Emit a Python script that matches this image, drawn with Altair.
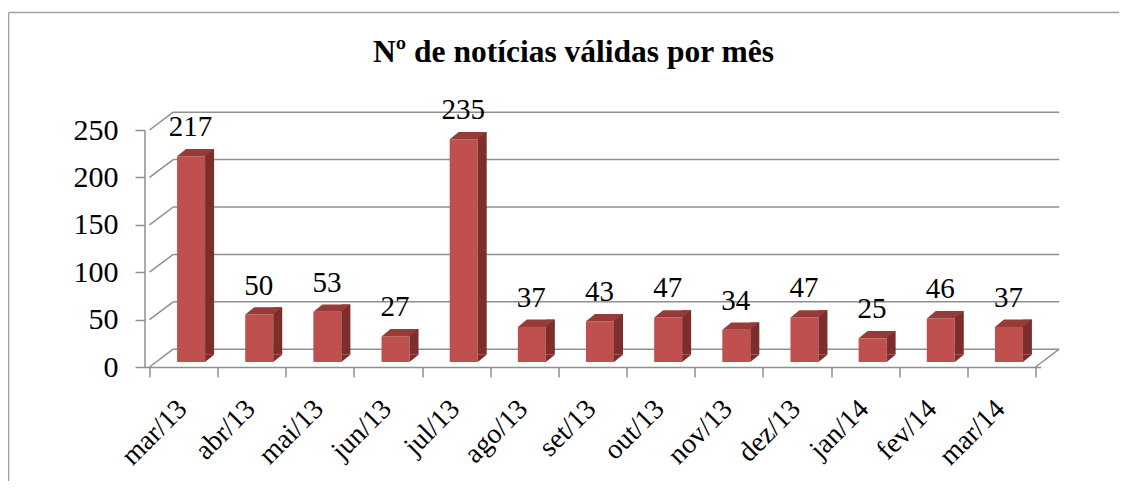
import altair as alt
import pandas as pd

months = ["mar/13", "abr/13", "mai/13", "jun/13", "jul/13", "ago/13", "set/13",
          "out/13", "nov/13", "dez/13", "jan/14", "fev/14", "mar/14"]
values = [217, 50, 53, 27, 235, 37, 43, 47, 34, 47, 25, 46, 37]
y_ticks = [0, 50, 100, 150, 200, 250]
title_text = "Nº de notícias válidas por mês"

n = len(months)
bars = pd.DataFrame({"i": list(range(n)), "month": months, "v": values})
grid = pd.DataFrame({"g": y_ticks})
ttl = pd.DataFrame({"t": [title_text]})

FONT = "Liberation Serif"
GRID = "#8f8f8f"
FRONT = "#C0504D"
TOP = "#963B38"
SIDE = "#7C2E2C"
DX, DY = 23.7, -17.8

xs = alt.Scale(domain=[-0.5, n - 0.5], nice=False, zero=False)
ys = alt.Scale(domain=[0, 250], nice=False)

label_arr = "[" + ",".join("'%s'" % m for m in months) + "]"
label_expr = f"datum.value > {n - 1} ? '' : {label_arr}[round(datum.value + 0.5)]"
tick_vals = [k - 0.5 for k in range(n + 1)]

xaxis = alt.Axis(
    values=tick_vals, labelExpr=label_expr, labelAngle=-45, labelAlign="right",
    labelBaseline="alphabetic", labelOffset=38.5, labelPadding=33, labelFlush=False,
    labelOverlap=False, tickSize=10, tickColor=GRID, tickWidth=1.5,
    domainColor=GRID, domainWidth=1.5, labelFont=FONT, labelFontSize=28,
    labelColor="black", grid=False, title=None)
yaxis = alt.Axis(
    values=y_ticks, grid=False, tickSize=9.5, labelPadding=17, labelFont=FONT,
    labelFontSize=30, labelColor="black", domainColor=GRID, domainWidth=1.5,
    tickColor=GRID, tickWidth=1.5, labelFlush=False, title=None)

back = alt.Chart(grid).mark_rule(
    color=GRID, strokeWidth=1.5, xOffset=DX, x2Offset=DX, yOffset=DY, y2Offset=DY
).encode(
    x=alt.XDatum(-0.5, scale=xs, axis=xaxis),
    x2=alt.X2Datum(n - 0.5),
    y=alt.Y("g:Q", scale=ys, axis=yaxis),
    y2=alt.Y2("g:Q"),
)

left_wall = alt.Chart(grid).mark_rule(
    color=GRID, strokeWidth=1.5, x2Offset=DX, y2Offset=DY
).encode(
    x=alt.XDatum(-0.5, scale=xs, axis=xaxis),
    x2=alt.X2Datum(-0.5),
    y=alt.Y("g:Q", scale=ys, axis=yaxis),
    y2=alt.Y2("g:Q"),
)

right_floor = alt.Chart(grid).transform_filter("datum.g == 0").mark_rule(
    color=GRID, strokeWidth=1.5, x2Offset=DX, y2Offset=DY
).encode(
    x=alt.XDatum(n - 0.5, scale=xs, axis=xaxis),
    x2=alt.X2Datum(n - 0.5),
    y=alt.Y("g:Q", scale=ys, axis=yaxis),
    y2=alt.Y2("g:Q"),
)

front = alt.Chart(bars).mark_bar(
    size=28, xOffset=7.5, yOffset=-5, y2Offset=-5, color=FRONT
).encode(
    x=alt.X("i:Q", scale=xs, axis=xaxis),
    y=alt.Y("v:Q", scale=ys, axis=yaxis),
    y2=alt.Y2Datum(0),
)

side = alt.Chart(bars).mark_bar(
    size=9, xOffset=26, yOffset=-12.3, y2Offset=-12.3, color=SIDE
).encode(
    x=alt.X("i:Q", scale=xs, axis=xaxis),
    y=alt.Y("v:Q", scale=ys, axis=yaxis),
    y2=alt.Y2Datum(0),
)

side_tri = alt.Chart(bars).mark_point(
    shape="M21.5,-5L30.5,-12.3L21.5,-12.3Z", size=4, filled=True, opacity=1,
    color=SIDE, strokeWidth=0
).encode(
    x=alt.X("i:Q", scale=xs, axis=xaxis),
    y=alt.YDatum(0, scale=ys, axis=yaxis),
)

top = alt.Chart(bars).mark_point(
    shape="M-6.5,-5L21.5,-5L30.5,-12.3L2.5,-12.3Z", size=4, filled=True, opacity=1,
    color=TOP, strokeWidth=0
).encode(
    x=alt.X("i:Q", scale=xs, axis=xaxis),
    y=alt.Y("v:Q", scale=ys, axis=yaxis),
)

labels = alt.Chart(bars).mark_text(
    font=FONT, fontSize=29, color="black", align="center", baseline="alphabetic",
    dx=7, dy=-25
).encode(
    x=alt.X("i:Q", scale=xs, axis=xaxis),
    y=alt.Y("v:Q", scale=ys, axis=yaxis),
    text=alt.Text("lbl:N"),
).transform_calculate(lbl="'' + datum.v")

title = alt.Chart(ttl).mark_text(
    font=FONT, fontSize=31.5, fontWeight="bold", color="black", align="center",
    baseline="alphabetic"
).encode(text="t:N", x=alt.value(429), y=alt.value(-68))

frame_top = alt.Chart(ttl).mark_rule(color="#a0a0a0", strokeWidth=1.5).encode(
    x=alt.value(-136), x2=alt.value(990), y=alt.value(-117.5))
frame_left = alt.Chart(ttl).mark_rule(color="#a0a0a0", strokeWidth=1.5).encode(
    x=alt.value(-136), y=alt.value(-117.5), y2=alt.value(360))

chart = alt.layer(
    back, left_wall, right_floor, front, side, side_tri, top, labels, title,
    frame_top, frame_left
).properties(
    width=896, height=237,
    padding={"left": 136.5, "top": 122, "right": 78.5, "bottom": 114},
    autosize=alt.AutoSizeParams(type="none"),
    background="white",
).configure_view(strokeWidth=0).configure_text(font=FONT)

chart.save("out.html", embed_options={"renderer": "svg", "actions": False})
